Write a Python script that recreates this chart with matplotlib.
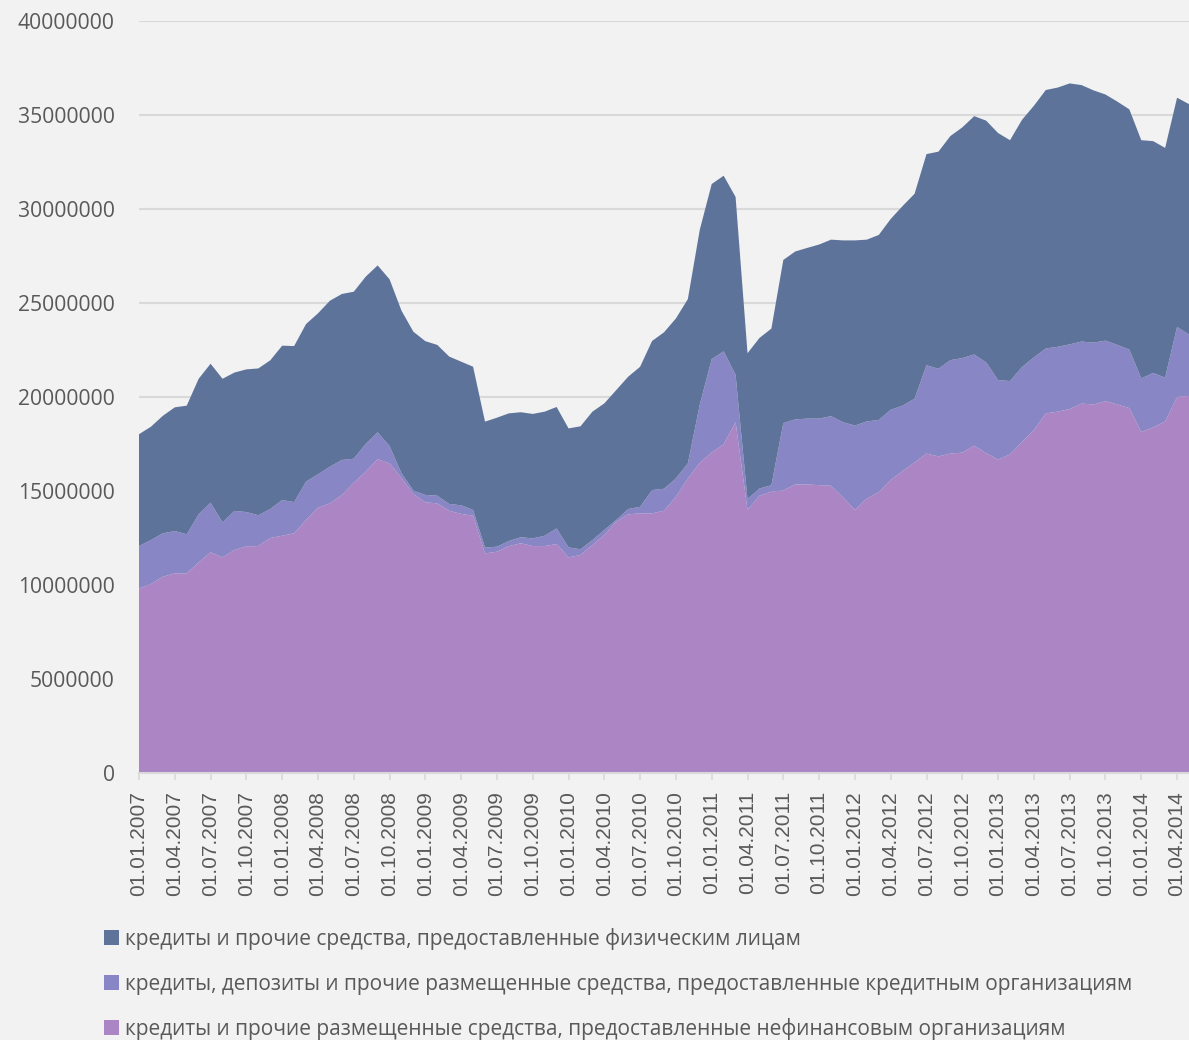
import numpy as np
import matplotlib
matplotlib.use('Agg')
from matplotlib import pyplot as plt
from matplotlib.patches import Patch

# monthly values, millions, 01.01.2007 .. 01.05.2014
pink = [9.82, 10.05, 10.44, 10.62, 10.62, 11.2, 11.74, 11.47, 11.86, 12.06,
        12.07, 12.5, 12.62, 12.75, 13.46, 14.11, 14.34, 14.79, 15.44, 16.03,
        16.69, 16.47, 15.68, 14.84, 14.4, 14.34, 13.95, 13.78, 13.69, 11.68,
        11.77, 12.07, 12.22, 12.07, 12.07, 12.18, 11.47, 11.6, 12.13, 12.66,
        13.37, 13.76, 13.81, 13.81, 13.95, 14.7, 15.67, 16.5, 17.05, 17.49,
        18.66, 14.0, 14.75, 14.97, 15.03, 15.35, 15.35, 15.31, 15.28, 14.66,
        14.0, 14.6, 14.94, 15.59, 16.06, 16.52, 16.99, 16.84, 16.99, 17.04,
        17.41, 17.02, 16.67, 16.95, 17.6, 18.24, 19.13, 19.22, 19.36, 19.65,
        19.6, 19.78, 19.6, 19.41, 18.14, 18.38, 18.7, 20.0, 20.06]

purple = [2.25, 2.34, 2.31, 2.25, 2.08, 2.56, 2.64, 1.86, 2.08, 1.82,
          1.64, 1.54, 1.90, 1.66, 2.04, 1.78, 1.95, 1.86, 1.28, 1.47,
          1.43, 0.92, 0.26, 0.18, 0.39, 0.41, 0.36, 0.46, 0.30, 0.31,
          0.27, 0.27, 0.32, 0.41, 0.55, 0.83, 0.53, 0.30, 0.26, 0.27,
          0.09, 0.28, 0.35, 1.24, 1.17, 0.97, 0.80, 3.10, 4.97, 4.94,
          2.52, 0.57, 0.38, 0.34, 3.58, 3.46, 3.50, 3.54, 3.70, 4.00,
          4.48, 4.10, 3.84, 3.73, 3.48, 3.39, 4.70, 4.66, 4.97, 5.03,
          4.85, 4.82, 4.23, 3.90, 3.99, 3.87, 3.45, 3.45, 3.44, 3.30,
          3.29, 3.22, 3.17, 3.11, 2.85, 2.90, 2.33, 3.73, 3.26]

blue = [5.95, 6.03, 6.25, 6.58, 6.84, 7.21, 7.39, 7.64, 7.36, 7.59,
        7.81, 7.91, 8.21, 8.30, 8.38, 8.56, 8.83, 8.83, 8.88, 8.90,
        8.88, 8.87, 8.65, 8.45, 8.18, 8.02, 7.84, 7.64, 7.62, 6.70,
        6.86, 6.79, 6.65, 6.62, 6.60, 6.46, 6.33, 6.54, 6.83, 6.73,
        6.91, 7.04, 7.45, 7.93, 8.32, 8.51, 8.74, 9.30, 9.31, 9.34,
        9.46, 7.76, 8.01, 8.33, 8.68, 8.93, 9.08, 9.26, 9.39, 9.67,
        9.85, 9.67, 9.84, 10.15, 10.62, 10.90, 11.23, 11.55, 11.92, 12.27,
        12.68, 12.86, 13.14, 12.81, 13.15, 13.38, 13.75, 13.79, 13.88, 13.64,
        13.42, 13.09, 12.94, 12.78, 12.67, 12.33, 12.22, 12.19, 12.26]

labels = ['кредиты и прочие средства, предоставленные физическим лицам',
          'кредиты, депозиты и прочие размещенные средства, предоставленные кредитным организациям',
          'кредиты и прочие размещенные средства, предоставленные нефинансовым организациям']

tick_labels = ['01.%02d.%d' % (m, y) for y in range(2007, 2015) for m in (1, 4, 7, 10)][:30]

colors = ['#5E7399', '#8886C4', '#AC85C4']
bg = '#F2F2F2'
txt = '#595959'

x = np.arange(len(pink))

fig = plt.figure(figsize=(11.89, 10.4), dpi=100, facecolor=bg)
ax = fig.add_axes([139 / 1189, 1 - 773 / 1040, 1050 / 1189, 752 / 1040])
ax.set_facecolor(bg)

ax.stackplot(x, np.array(pink) * 1e6, np.array(purple) * 1e6, np.array(blue) * 1e6,
             colors=colors[::-1], linewidth=0, zorder=2)

ax.set_xlim(0, len(pink) - 1)
ax.set_ylim(0, 40000000)
ax.set_yticks(np.arange(0, 40000001, 5000000))
ax.set_yticklabels(['%d' % v for v in np.arange(0, 40000001, 5000000)],
                   fontsize=15.2, color=txt, family='Open Sans')
ax.yaxis.grid(True, color='#D9D9D9', linewidth=1.5, zorder=0)
ax.set_axisbelow(True)

ax.set_xticks(x[::3])
ax.set_xticklabels(tick_labels, rotation=90, fontsize=15, color=txt,
                   family='Liberation Sans')
ax.tick_params(axis='x', length=5, width=1.2, color='#D9D9D9', pad=8)
ax.tick_params(axis='y', length=0, pad=17.5)

for s in ['top', 'right', 'left']:
    ax.spines[s].set_visible(False)
ax.spines['bottom'].set_color('#D9D9D9')
ax.spines['bottom'].set_linewidth(1.5)
ax.spines['bottom'].set_zorder(3)

handles = [Patch(facecolor=c, edgecolor='none') for c in colors]
fig.legend(handles, labels, loc='upper left', bbox_to_anchor=(104 / 1189, 1 - 928 / 1040),
           frameon=False, labelcolor=txt, prop={'family': 'Open Sans', 'size': 15},
           handlelength=0.72, handleheight=0.72, handletextpad=0.3, labelspacing=1.13,
           borderpad=0, borderaxespad=0)

fig.savefig('out.png', dpi=100, facecolor=bg)
